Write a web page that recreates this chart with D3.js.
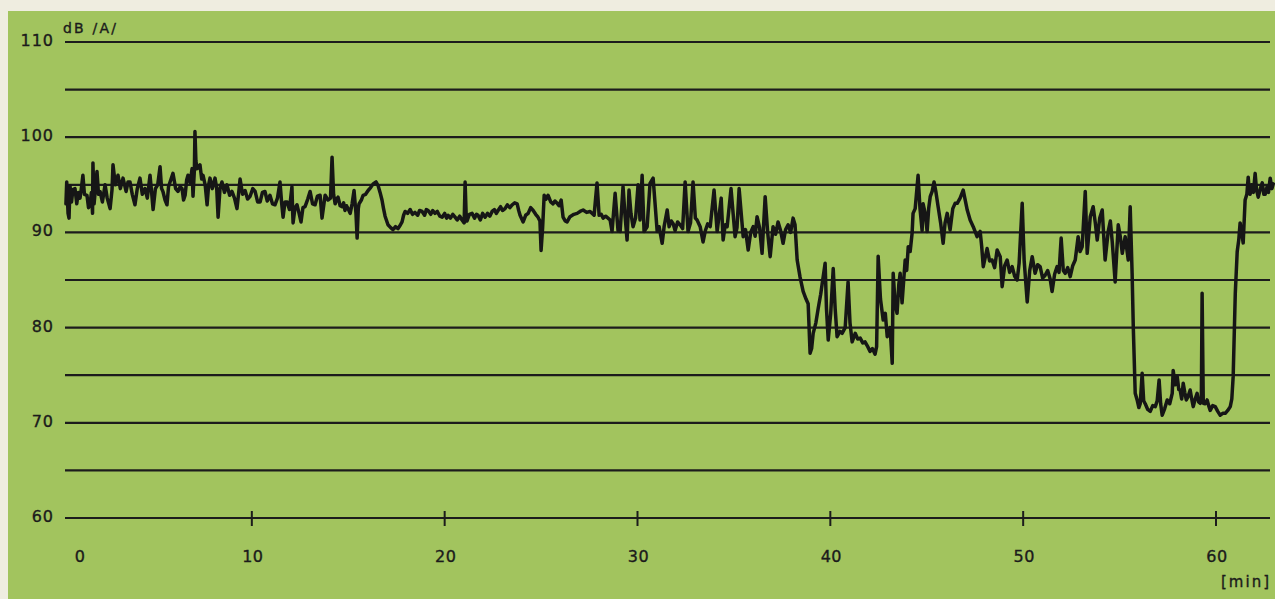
<!DOCTYPE html>
<html>
<head>
<meta charset="utf-8">
<script src="https://cdnjs.cloudflare.com/ajax/libs/d3/7.8.5/d3.min.js"></script>
<style>
  body { margin: 0; background: #efede0; }
  svg { display: block; }
  .lbl { font-family: "DejaVu Sans", sans-serif; fill: #1b1b1b; stroke: #1b1b1b; stroke-width: 0.35px; }
</style>
</head>
<body>
<svg id="chart" width="1275" height="599"></svg>
<script>
// grid levels (dB) and labels
var gridLevels = [60, 65, 70, 75, 80, 85, 90, 95, 100, 105, 110];
var yLabels = [60, 70, 80, 90, 100, 110];
var xTicks = [10, 20, 30, 40, 50, 60];
var xLabels = [0, 10, 20, 30, 40, 50, 60];

// sound level trace, [minute, dB(A)]
var trace = [
  [0.36, 93.0], [0.40, 95.3], [0.47, 92.0], [0.52, 91.5], [0.57, 94.9], [0.65, 93.2], [0.72, 94.5], [0.83, 94.6],
  [0.92, 93.0], [1.00, 94.2], [1.09, 93.6], [1.17, 94.8], [1.24, 96.0], [1.32, 94.0], [1.45, 93.9], [1.53, 92.6],
  [1.61, 92.9], [1.68, 94.2], [1.74, 92.0], [1.76, 97.3], [1.82, 93.0], [1.97, 96.4], [2.05, 94.0], [2.13, 94.3],
  [2.25, 93.2], [2.39, 95.0], [2.50, 93.6], [2.65, 92.5], [2.75, 94.5], [2.80, 97.1], [2.92, 95.0], [3.06, 96.0],
  [3.18, 94.6], [3.32, 95.7], [3.48, 94.3], [3.58, 95.3], [3.68, 95.3], [3.80, 94.0], [3.94, 92.9], [4.06, 94.6],
  [4.20, 95.7], [4.32, 94.0], [4.46, 94.6], [4.58, 93.6], [4.72, 96.0], [4.80, 94.3], [4.88, 92.4], [5.00, 94.6],
  [5.12, 95.0], [5.24, 96.9], [5.32, 94.6], [5.39, 94.3], [5.50, 93.4], [5.60, 92.9], [5.68, 94.8], [5.76, 95.3],
  [5.91, 96.2], [6.05, 94.6], [6.17, 94.3], [6.28, 94.8], [6.38, 94.6], [6.46, 93.4], [6.54, 93.9], [6.62, 95.5],
  [6.69, 96.0], [6.80, 95.2], [6.90, 96.7], [6.95, 93.8], [7.02, 96.5], [7.05, 100.6], [7.10, 97.5], [7.16, 96.7],
  [7.31, 97.1], [7.40, 95.6], [7.47, 96.0], [7.58, 95.0], [7.68, 92.9], [7.76, 95.0], [7.83, 95.7], [7.95, 94.6],
  [8.09, 95.7], [8.18, 94.6], [8.25, 91.6], [8.35, 94.6], [8.45, 95.3], [8.58, 94.2], [8.71, 95.0], [8.85, 93.9],
  [8.97, 94.3], [9.10, 93.6], [9.23, 92.5], [9.32, 94.2], [9.39, 95.6], [9.52, 94.0], [9.65, 94.4], [9.78, 93.5],
  [9.91, 93.8], [10.05, 94.6], [10.17, 94.3], [10.30, 93.2], [10.43, 93.2], [10.55, 94.2], [10.68, 94.3], [10.80, 93.3],
  [10.94, 93.9], [11.07, 93.0], [11.20, 92.9], [11.33, 93.6], [11.46, 95.3], [11.55, 93.0], [11.62, 91.6], [11.72, 93.2],
  [11.83, 93.2], [11.95, 92.4], [12.08, 94.8], [12.12, 92.0], [12.14, 91.0], [12.24, 92.6], [12.34, 92.9], [12.45, 92.0],
  [12.55, 91.1], [12.65, 92.6], [12.76, 92.7], [12.90, 93.5], [13.02, 94.3], [13.15, 93.0], [13.28, 92.9], [13.40, 93.8],
  [13.54, 93.9], [13.64, 91.5], [13.80, 93.9], [13.95, 93.4], [14.08, 93.6], [14.16, 97.9], [14.24, 94.0], [14.32, 93.0],
  [14.40, 93.5], [14.47, 93.7], [14.58, 92.8], [14.68, 92.7], [14.76, 93.1], [14.83, 92.3], [14.91, 92.8], [14.99, 92.5],
  [15.10, 92.0], [15.20, 93.0], [15.30, 94.4], [15.40, 92.0], [15.46, 89.4], [15.52, 92.5], [15.56, 93.0], [15.68, 93.4],
  [15.77, 93.9], [15.90, 94.0], [16.03, 94.4], [16.16, 94.7], [16.29, 95.1], [16.44, 95.3], [16.55, 94.9], [16.65, 94.2],
  [16.75, 93.4], [16.83, 92.5], [16.91, 91.7], [17.06, 90.8], [17.20, 90.5], [17.32, 90.3], [17.45, 90.6], [17.58, 90.4],
  [17.68, 90.7], [17.79, 91.1], [17.87, 91.8], [17.95, 92.2], [18.08, 92.0], [18.21, 92.4], [18.33, 91.9], [18.46, 92.1],
  [18.60, 91.8], [18.70, 92.3], [18.83, 92.2], [18.96, 91.8], [19.05, 92.4], [19.14, 92.3], [19.28, 91.9], [19.38, 92.3],
  [19.50, 92.0], [19.62, 92.2], [19.75, 91.7], [19.87, 91.6], [20.00, 92.0], [20.10, 91.5], [20.18, 91.8], [20.30, 91.5],
  [20.42, 91.9], [20.54, 91.6], [20.65, 91.3], [20.78, 91.7], [20.90, 91.3], [21.01, 91.0], [21.06, 95.3], [21.12, 91.5],
  [21.16, 91.2], [21.28, 91.9], [21.42, 92.0], [21.55, 91.5], [21.65, 91.9], [21.73, 91.8], [21.85, 91.3], [21.97, 92.0],
  [22.10, 91.6], [22.22, 92.0], [22.34, 91.7], [22.46, 92.2], [22.58, 92.4], [22.68, 92.0], [22.77, 92.3], [22.90, 92.7],
  [23.00, 92.3], [23.13, 92.5], [23.25, 92.9], [23.38, 92.6], [23.50, 92.9], [23.63, 93.1], [23.76, 93.0], [23.84, 92.3],
  [23.91, 91.8], [24.07, 91.1], [24.20, 91.8], [24.33, 92.0], [24.46, 92.6], [24.59, 92.3], [24.72, 91.9], [24.84, 91.6],
  [24.94, 91.2], [25.00, 88.1], [25.08, 90.5], [25.16, 93.9], [25.26, 93.5], [25.36, 93.9], [25.50, 93.2], [25.62, 93.0],
  [25.72, 93.3], [25.82, 93.1], [25.93, 92.8], [26.04, 93.4], [26.14, 91.6], [26.25, 91.2], [26.35, 91.1], [26.50, 91.65],
  [26.70, 91.9], [26.87, 92.0], [27.02, 92.2], [27.18, 92.35], [27.36, 92.1], [27.54, 92.2], [27.75, 91.8], [27.90, 95.2],
  [28.01, 91.8], [28.12, 91.9], [28.22, 91.5], [28.35, 91.7], [28.47, 91.5], [28.58, 91.3], [28.68, 90.1], [28.84, 94.1],
  [28.99, 90.2], [29.10, 90.1], [29.25, 94.8], [29.36, 91.6], [29.46, 89.2], [29.56, 94.45], [29.66, 92.0], [29.77, 90.6],
  [29.90, 91.5], [30.03, 95.0], [30.13, 91.3], [30.24, 96.0], [30.34, 90.1], [30.50, 90.6], [30.65, 95.15], [30.81, 95.7],
  [31.02, 90.1], [31.12, 90.6], [31.28, 88.85], [31.38, 90.6], [31.54, 92.35], [31.64, 90.6], [31.75, 91.2], [31.85, 90.9],
  [31.95, 90.2], [32.08, 91.1], [32.21, 90.8], [32.34, 90.4], [32.47, 95.3], [32.62, 90.1], [32.75, 91.0], [32.88, 95.3],
  [33.00, 91.5], [33.09, 91.3], [33.25, 90.6], [33.40, 89.0], [33.52, 90.2], [33.64, 90.9], [33.77, 90.6], [33.97, 94.45],
  [34.13, 90.1], [34.34, 93.6], [34.44, 89.2], [34.55, 90.8], [34.65, 90.6], [34.85, 94.6], [35.06, 89.55], [35.16, 90.5],
  [35.27, 94.6], [35.48, 89.55], [35.60, 90.3], [35.74, 88.15], [35.87, 90.0], [36.00, 90.6], [36.10, 89.6], [36.20, 91.65],
  [36.33, 90.5], [36.46, 87.8], [36.62, 93.75], [36.75, 90.0], [36.88, 87.45], [37.03, 90.6], [37.16, 89.8], [37.29, 91.1],
  [37.42, 90.2], [37.55, 88.85], [37.68, 90.3], [37.81, 90.8], [37.94, 90.0], [38.07, 91.5], [38.17, 90.8], [38.28, 87.1],
  [38.43, 85.3], [38.59, 83.8], [38.74, 83.0], [38.85, 82.5], [38.95, 77.3], [39.03, 77.8], [39.11, 79.4], [39.25, 80.5],
  [39.37, 82.0], [39.50, 83.5], [39.57, 84.5], [39.73, 86.75], [39.80, 82.0], [39.89, 78.7], [40.02, 81.5], [40.15, 86.2],
  [40.25, 82.0], [40.35, 79.05], [40.50, 79.6], [40.61, 79.4], [40.77, 80.0], [40.92, 84.8], [41.02, 80.5], [41.13, 78.5],
  [41.29, 79.4], [41.42, 78.8], [41.55, 78.9], [41.68, 78.4], [41.80, 78.5], [41.94, 78.0], [42.06, 77.5], [42.18, 77.8],
  [42.32, 77.2], [42.40, 78.0], [42.48, 87.5], [42.60, 83.0], [42.74, 80.8], [42.85, 81.5], [42.95, 79.05], [43.10, 80.0],
  [43.21, 76.25], [43.26, 85.7], [43.36, 82.5], [43.46, 81.5], [43.55, 84.5], [43.62, 85.7], [43.72, 82.6], [43.88, 87.1],
  [43.96, 86.0], [44.04, 88.5], [44.14, 88.0], [44.24, 89.9], [44.29, 92.0], [44.40, 92.5], [44.55, 96.0], [44.65, 92.5],
  [44.76, 90.2], [44.81, 93.0], [44.92, 92.0], [45.02, 90.1], [45.10, 92.5], [45.18, 93.75], [45.28, 94.3], [45.38, 95.3],
  [45.48, 94.2], [45.59, 92.7], [45.72, 91.0], [45.85, 88.85], [45.95, 91.0], [46.06, 92.0], [46.21, 90.25], [46.35, 92.5],
  [46.47, 93.05], [46.58, 93.05], [46.73, 93.6], [46.89, 94.45], [47.10, 92.35], [47.25, 91.3], [47.41, 90.6], [47.61, 89.55],
  [47.77, 90.1], [47.85, 88.5], [47.93, 86.4], [48.13, 88.3], [48.26, 87.0], [48.39, 87.1], [48.52, 86.3], [48.65, 88.15],
  [48.81, 87.45], [48.91, 84.3], [49.04, 86.5], [49.17, 87.1], [49.30, 85.8], [49.43, 86.4], [49.56, 85.4], [49.69, 85.0],
  [49.79, 86.75], [49.95, 93.05], [50.05, 87.1], [50.21, 82.7], [50.34, 86.0], [50.47, 87.45], [50.62, 85.7], [50.75, 86.6],
  [50.88, 86.4], [51.01, 85.2], [51.14, 85.5], [51.27, 86.0], [51.40, 85.1], [51.50, 83.8], [51.63, 85.6], [51.76, 86.4],
  [51.86, 85.8], [51.97, 89.4], [52.08, 86.0], [52.18, 85.7], [52.31, 86.3], [52.44, 85.35], [52.57, 86.5], [52.70, 87.1],
  [52.85, 89.55], [52.95, 88.0], [53.06, 88.5], [53.22, 94.3], [53.32, 87.8], [53.48, 91.65], [53.63, 92.7], [53.74, 91.0],
  [53.84, 89.2], [53.97, 91.5], [54.10, 92.35], [54.25, 87.1], [54.41, 90.1], [54.52, 91.2], [54.62, 89.0], [54.77, 84.8],
  [54.93, 90.8], [55.04, 89.5], [55.14, 87.8], [55.29, 89.55], [55.45, 87.1], [55.55, 92.7], [55.65, 85.7], [55.71, 80.1],
  [55.81, 73.1], [55.91, 72.4], [56.00, 71.6], [56.07, 72.0], [56.17, 75.2], [56.25, 72.3], [56.33, 72.0], [56.46, 71.4],
  [56.59, 71.2], [56.72, 71.8], [56.85, 71.7], [56.95, 72.3], [57.05, 74.5], [57.13, 72.0], [57.21, 70.8], [57.34, 71.5],
  [57.47, 72.4], [57.60, 72.0], [57.73, 73.1], [57.78, 75.5], [57.88, 74.0], [57.99, 74.85], [58.07, 73.5], [58.14, 73.45],
  [58.22, 72.5], [58.30, 74.15], [58.38, 73.2], [58.46, 72.4], [58.56, 72.8], [58.66, 73.45], [58.74, 72.5], [58.82, 71.7],
  [58.92, 72.5], [59.02, 73.1], [59.10, 72.2], [59.18, 72.05], [59.24, 72.5], [59.28, 83.6], [59.34, 72.05], [59.44, 72.0],
  [59.54, 72.4], [59.62, 71.8], [59.70, 71.3], [59.83, 71.8], [59.96, 71.7], [60.09, 71.2], [60.22, 70.8], [60.35, 71.0],
  [60.48, 71.0], [60.61, 71.3], [60.74, 71.7], [60.82, 72.5], [60.89, 74.85], [61.00, 83.6], [61.10, 88.0], [61.18, 89.2],
  [61.25, 91.0], [61.33, 90.0], [61.41, 88.9], [61.51, 93.4], [61.60, 94.0], [61.67, 95.8], [61.72, 94.5], [61.77, 94.0],
  [61.85, 95.0], [61.94, 94.2], [62.03, 96.2], [62.10, 94.5], [62.19, 93.7], [62.30, 94.6], [62.40, 95.2], [62.48, 94.0],
  [62.55, 94.0], [62.65, 94.8], [62.72, 94.2], [62.81, 95.7], [62.90, 94.6], [62.97, 95.1]
];

var svg = d3.select("#chart");

// green card on a cream page
svg.append("rect").attr("x", 8).attr("y", 11).attr("width", 1267).attr("height", 588).attr("fill", "#a2c45e");

var x = d3.scaleLinear().domain([0, 60]).range([59, 1216]);
var y = d3.scaleLinear().domain([60, 110]).range([518, 42]);

var gridLeft = 65, gridRight = 1270;

svg.selectAll("line.grid")
  .data(gridLevels)
  .enter().append("line")
  .attr("class", "grid")
  .attr("x1", gridLeft).attr("x2", gridRight)
  .attr("y1", function(d) { return y(d); })
  .attr("y2", function(d) { return y(d); })
  .attr("stroke", "#1c1c1c")
  .attr("stroke-width", 2.2);

svg.selectAll("line.tick")
  .data(xTicks)
  .enter().append("line")
  .attr("class", "tick")
  .attr("x1", function(d) { return x(d); })
  .attr("x2", function(d) { return x(d); })
  .attr("y1", y(60) - 7).attr("y2", y(60) + 8)
  .attr("stroke", "#1c1c1c")
  .attr("stroke-width", 2);

svg.selectAll("text.ylab")
  .data(yLabels)
  .enter().append("text")
  .attr("class", "lbl")
  .attr("x", 54)
  .attr("y", function(d) { return y(d) + 4; })
  .attr("text-anchor", "end")
  .attr("font-size", 16)
  .attr("letter-spacing", 1)
  .text(function(d) { return d; });

// the 0 label sits a little right of the origin in the original
svg.selectAll("text.xlab")
  .data(xLabels)
  .enter().append("text")
  .attr("class", "lbl")
  .attr("x", function(d) { return d === 0 ? x(d) + 21 : x(d) + 1; })
  .attr("y", 562)
  .attr("text-anchor", "middle")
  .attr("font-size", 16)
  .attr("letter-spacing", 0.5)
  .text(function(d) { return d; });

svg.append("text")
  .attr("class", "lbl")
  .attr("x", 63).attr("y", 33)
  .attr("font-size", 14)
  .attr("letter-spacing", 2.2)
  .text("dB /A/");

svg.append("text")
  .attr("class", "lbl")
  .attr("x", 1271).attr("y", 587)
  .attr("text-anchor", "end")
  .attr("font-size", 15)
  .attr("letter-spacing", 2)
  .text("[min]");

var line = d3.line()
  .x(function(d) { return x(d[0]); })
  .y(function(d) { return y(d[1]); });

svg.append("path")
  .datum(trace)
  .attr("d", line)
  .attr("fill", "none")
  .attr("stroke", "#161616")
  .attr("stroke-width", 3.5)
  .attr("stroke-linejoin", "round")
  .attr("stroke-linecap", "round");
</script>
</body>
</html>
